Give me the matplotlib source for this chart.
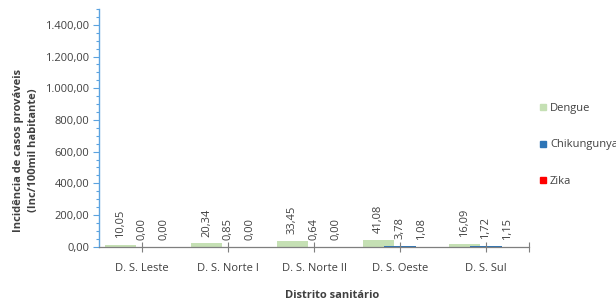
import matplotlib
matplotlib.use("Agg")
import matplotlib.pyplot as plt
from matplotlib.lines import Line2D
from matplotlib.ticker import FixedLocator, FuncFormatter, MultipleLocator

plt.rcParams['font.family'] = ['Open Sans', 'DejaVu Sans']

distritos = ['D. S. Leste', 'D. S. Norte I', 'D. S. Norte II', 'D. S. Oeste', 'D. S. Sul']
dengue = [10.05, 20.34, 33.45, 41.08, 16.09]
chikungunya = [0.00, 0.85, 0.64, 3.78, 1.72]
zika = [0.00, 0.00, 0.00, 1.08, 1.15]

series = [('Dengue', dengue, '#C5E0B4'),
          ('Chikungunya', chikungunya, '#2E75B6'),
          ('Zika', zika, '#FF0000')]


def br(v, pos=None):
    s = f"{v:,.2f}"
    return s.replace(',', 'X').replace('.', ',').replace('X', '.')


txt = '#404040'
fig = plt.figure(figsize=(6.16, 3.02), dpi=100)
ax = fig.add_axes([99 / 616, 1 - 246.7 / 302, 430 / 616, 237.7 / 302])

offsets = [-0.25, 0.0, 0.25]
width = 0.37
for (name, vals, col), off in zip(series, offsets):
    xs = [i + off for i in range(len(vals))]
    ax.bar(xs, vals, width=width, color=col, linewidth=0)
    for x, v in zip(xs, vals):
        ax.annotate(br(v), (x, v), xytext=(0, 5), textcoords='offset points',
                    rotation=90, ha='center', va='bottom', fontsize=8, color=txt)

ax.set_xlim(-0.5, 4.5)
ax.set_ylim(0, 1500)

ax.xaxis.set_major_locator(FixedLocator([0, 1, 2, 3, 4, 4.5]))
ax.set_xticklabels(distritos + [''])
ax.tick_params(axis='x', direction='inout', length=7, width=0.8, color='#7F7F7F',
               labelsize=8, labelcolor=txt, pad=8)

ax.yaxis.set_major_locator(FixedLocator(list(range(0, 1401, 200))))
ax.yaxis.set_minor_locator(MultipleLocator(50))
ax.yaxis.set_major_formatter(FuncFormatter(br))
ax.tick_params(axis='y', which='major', direction='out', length=4, width=0.8,
               color='#5BA3E0', labelsize=8, labelcolor=txt, pad=3)
ax.tick_params(axis='y', which='minor', direction='out', length=2, width=0.8,
               color='#5BA3E0')

for s in ['top', 'right']:
    ax.spines[s].set_visible(False)
ax.spines['left'].set_color('#5BA3E0')
ax.spines['left'].set_linewidth(1.0)
ax.spines['bottom'].set_color('#7F7F7F')
ax.spines['bottom'].set_linewidth(0.9)

fig.text(26 / 616, 1 - 150 / 302,
         'Incidência de casos prováveis\n(Inc/100mil habitante)',
         rotation=90, ha='center', va='center', fontsize=8, fontweight='bold',
         color=txt, linespacing=1.45)
fig.text(332 / 616, 1 - 295 / 302, 'Distrito sanitário', ha='center', va='center',
         fontsize=8, fontweight='bold', color=txt)

handles = [Line2D([], [], marker='s', linestyle='none', markersize=5,
                  markerfacecolor=col, markeredgecolor=col) for _, _, col in series]
fig.legend(handles, [n for n, _, _ in series], loc='center left',
           bbox_to_anchor=(540 / 616, 1 - 145 / 302), frameon=False, fontsize=8,
           labelcolor=txt, handlelength=0.6, handletextpad=0.3, labelspacing=2.3,
           borderaxespad=0, borderpad=0)

fig.savefig('out.png', dpi=100)
